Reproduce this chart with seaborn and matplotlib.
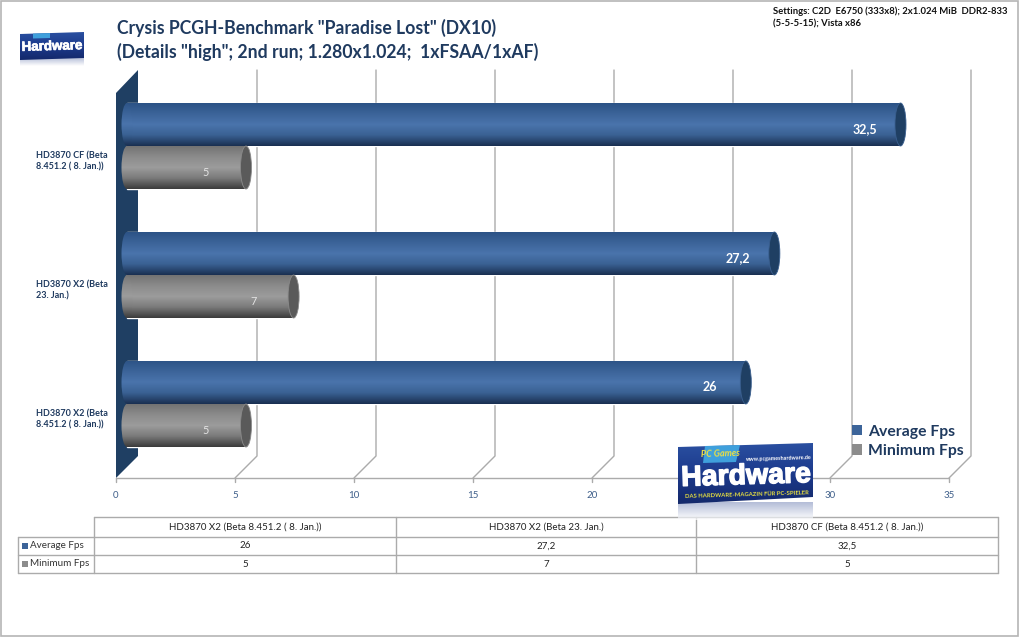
import matplotlib
matplotlib.use("Agg")
import matplotlib.pyplot as plt
import matplotlib.patheffects as pe
import numpy as np
import pandas as pd
import seaborn as sns
from matplotlib.colors import LinearSegmentedColormap
from matplotlib.patches import Ellipse, Polygon, Rectangle
from matplotlib.transforms import ScaledTranslation

cards = ["HD3870 X2 (Beta 8.451.2 ( 8. Jan.))", "HD3870 X2 (Beta 23. Jan.)", "HD3870 CF (Beta 8.451.2 ( 8. Jan.))"]
card_labels = ["HD3870 X2 (Beta\n8.451.2 ( 8. Jan.))", "HD3870 X2 (Beta\n23. Jan.)", "HD3870 CF (Beta\n8.451.2 ( 8. Jan.))"]
average_fps = [26, 27.2, 32.5]
minimum_fps = [5, 7, 5]
series_names = ["Average Fps", "Minimum Fps"]
x_ticks = [0, 5, 10, 15, 20, 25, 30, 35]

W, H = 1020, 637
NAVY = "#1F3A5F"
BLUE = "#3C6499"
GREY = "#8C8C8C"
LINE = "#ABABAB"
FONT = "Lato"
PX = 833 / 35  # pixels per fps along the axis


def fmt_value(v):
    return f"{v:g}".replace(".", ",")


def gradient(ax, colors, extent, clip):
    cmap = LinearSegmentedColormap.from_list("g", colors)
    im = ax.imshow(np.linspace(0, 1, 64).reshape(-1, 1), cmap=cmap, extent=extent,
                   aspect="auto", origin="upper", zorder=2)
    im.set_clip_path(clip)


def logo(ax, corners, title_size, title_xy, tab, stroke):
    left, right = corners[0][0], corners[1][0]
    top, bottom = corners[1][1], corners[3][1]
    body = Polygon(corners, closed=True, fc="none", ec="none")
    ax.add_patch(body)
    gradient(ax, ["#2A4FA0", "#1C3A8C", "#14296B"], (left, right, bottom, top), body)
    ax.add_patch(Polygon(tab, closed=True, fc="#3FA0DC", ec="none", zorder=3))
    # faded reflection under the logo
    depth = (bottom - top) * 0.3
    shadow = Rectangle((left, bottom - 2), right - left, depth, fc="none", ec="none")
    ax.add_patch(shadow)
    cmap = LinearSegmentedColormap.from_list("r", ["#8E9CC4", "#FFFFFF"])
    im = ax.imshow(np.linspace(0, 1, 32).reshape(-1, 1), cmap=cmap, alpha=0.7, aspect="auto",
                   extent=(left, right, bottom - 2 + depth, bottom - 2), origin="upper", zorder=1)
    im.set_clip_path(shadow)
    ax.text(*title_xy, "Hardware", color="white", fontsize=title_size, fontweight="bold",
            family=["Liberation Sans"], ha="center", va="center", rotation=1.7, zorder=4,
            path_effects=[pe.withStroke(linewidth=stroke, foreground="white")])


sns.set_theme(style="white")
plt.rcParams["font.family"] = [FONT, "DejaVu Sans"]

fig = plt.figure(figsize=(W / 100, H / 100), dpi=100, facecolor="white")

# background layer in pixel coordinates: frame, 3D floor and walls, data table
back = fig.add_axes([0, 0, 1, 1], zorder=0)
back.set_xlim(0, W)
back.set_ylim(H, 0)
back.axis("off")
back.add_patch(Rectangle((1, 1), 1017, 635, fc="none", ec="#B5B5B5", lw=1.2))
for t in x_ticks:
    fx = 116 + PX * t
    if t > 0:
        back.plot([fx + 22, fx + 22, fx], [70, 456, 478], color=LINE, lw=1)
    back.plot([fx, fx], [478, 482], color=LINE, lw=1)
    back.text(fx, 496, str(t), color="#3F5F8A", fontsize=7, ha="center", va="center")
back.plot([116, 116 + PX * 35], [478, 478], color=LINE, lw=1)
back.add_patch(Polygon([(116, 478), (138, 456), (138, 70), (116, 93)], closed=True, fc="#1F3F63", ec="none"))

col_x = [94, 396, 696, 998]
back.plot([94, 998], [517, 517], color=LINE, lw=1)
back.plot([18, 998], [537, 537], color=LINE, lw=1)
back.plot([18, 998], [555, 555], color=LINE, lw=1)
back.plot([18, 998], [573, 573], color=LINE, lw=1)
back.plot([18, 18], [537, 573], color=LINE, lw=1)
for x in col_x:
    back.plot([x, x], [517, 573], color=LINE, lw=1)
for i, card in enumerate(cards):
    cx = (col_x[i] + col_x[i + 1]) / 2
    back.text(cx, 527, card, color="#222222", fontsize=7, ha="center", va="center")
    back.text(cx, 546, fmt_value(average_fps[i]), color="#222222", fontsize=7, ha="center", va="center")
    back.text(cx, 564.5, fmt_value(minimum_fps[i]), color="#222222", fontsize=7, ha="center", va="center")
for name, color, y in zip(series_names, [BLUE, GREY], [545.5, 563.5]):
    back.add_patch(Rectangle((22, y - 3), 6, 6, fc=color, ec="none"))
    back.text(30, y, name, color="#333333", fontsize=7.1, ha="left", va="center")

back.text(117, 28, 'Crysis PCGH-Benchmark "Paradise Lost" (DX10)', color=NAVY, fontsize=12.7,
          fontweight="bold", ha="left", va="center")
back.text(117, 52, '(Details "high"; 2nd run; 1.280x1.024;  1xFSAA/1xAF)', color=NAVY, fontsize=12.7,
          fontweight="bold", ha="left", va="center")
back.text(773, 11, "Settings: C2D  E6750 (333x8); 2x1.024 MiB  DDR2-833", color="#111111", fontsize=6.85,
          fontweight="bold", ha="left", va="center")
back.text(773, 24, "(5-5-5-15); Vista x86", color="#111111", fontsize=6.85, fontweight="bold", ha="left", va="center")
back.set_xlim(0, W)
back.set_ylim(H, 0)

# bars
df = pd.DataFrame({"card": cards * 2,
                   "series": [series_names[0]] * 3 + [series_names[1]] * 3,
                   "fps": average_fps + minimum_fps})
ax = fig.add_axes([(127 - 0.5 * PX) / W, 1 - 468.5 / H, (35.5 * PX) / W, 387 / H], zorder=1)
ax.patch.set_alpha(0)
sns.barplot(data=df, y="card", x="fps", hue="series", order=cards[::-1], hue_order=series_names,
            palette=[BLUE, GREY], width=2 / 3, gap=0, orient="h", saturation=1, ax=ax)

ramps = [["#2C5386", "#3C6499", "#4A74AC", "#3A6193", "#1A3052"],
         ["#737373", "#8C8C8C", "#9C9C9C", "#7A7A7A", "#3C3C3C"]]
caps = [("#1F3F63", "#3A5F8F"), ("#5A5A5A", "#8A8A8A")]
offsets = [-36, -40]
for n, container in enumerate(ax.containers):
    for bar in container:
        x0, y0, w, h = bar.get_x(), bar.get_y(), bar.get_width(), bar.get_height()
        bar.set_facecolor("none")
        left_end = Ellipse((x0, y0 + h / 2), 11 / PX, h, fc="none", ec="none")
        ax.add_patch(left_end)
        gradient(ax, ramps[n], (x0, x0 + w, y0 + h, y0), bar)
        gradient(ax, ramps[n], (x0 - 1, x0 + 1, y0 + h, y0), left_end)
        ax.add_patch(Ellipse((x0 + w, y0 + h / 2), 11 / PX, h, fc=caps[n][0], ec=caps[n][1], lw=0.6, zorder=3))
    labels = ax.bar_label(container, fmt=fmt_value, padding=offsets[n] * 0.72, zorder=5,
                          color="white" if n == 0 else "#E4E4E4", fontsize=9 if n == 0 else 7.8,
                          fontweight="bold" if n == 0 else "normal")
    for label in labels:
        label.set_ha("center")
        label.xyann = (offsets[n] * 0.72, -3.5)

ax.set_xlim(-0.5, 35)
ax.set_ylim(2.5, -0.5)
ax.set_xticks([])
ax.set_xlabel("")
ax.set_ylabel("")
sns.despine(ax=ax, left=True, bottom=True)
ax.set_yticks(range(3))
ax.set_yticklabels(card_labels[::-1], color=NAVY, fontsize=6.5, fontweight="bold", ha="left", linespacing=1.35)
ax.tick_params(axis="y", length=0, pad=(115 - 36) * 0.72)
shift = ScaledTranslation(0, -0.13, fig.dpi_scale_trans)
for label in ax.get_yticklabels():
    label.set_transform(label.get_transform() + shift)

handles = [Rectangle((0, 0), 1, 1, fc=c, ec="none") for c in [BLUE, GREY]]
ax.legend(handles, series_names, loc="lower left", bbox_to_anchor=((852 - 115) / (35.5 * PX), 0.027), frameon=False,
          handlelength=0.64, handleheight=0.64, handletextpad=0.35, labelspacing=0.35, borderpad=0, borderaxespad=0,
          labelcolor=NAVY, prop={"weight": "bold", "size": 11.3, "family": FONT})

# logos sit on top of everything
front = fig.add_axes([0, 0, 1, 1], zorder=2)
front.patch.set_alpha(0)
front.axis("off")
logo(front, [(20, 34), (84, 32), (84, 58), (20, 60)], 9.6, (52, 47), [(33, 33.6), (50, 33.1), (50, 38), (33, 38.5)], 0.5)
logo(front, [(678, 447), (813, 443), (813, 497), (678, 504)], 20.5, (746, 477), [(705, 446), (740, 445), (736, 462), (703, 463)], 1)
front.text(720, 454, "PC Games", color="#F0E040", fontsize=6.5, fontweight="bold", style="italic",
           ha="center", va="center", rotation=1.7, zorder=5)
front.text(779, 458.5, "www.pcgameshardware.de", color="white", fontsize=3.9, fontweight="bold",
           ha="center", va="center", rotation=1.7, zorder=5)
front.text(747, 494.5, "DAS HARDWARE-MAGAZIN FÜR PC-SPIELER", color="#E8E040", fontsize=4.2, fontweight="bold",
           ha="center", va="center", rotation=1.7, zorder=5)
front.set_xlim(0, W)
front.set_ylim(H, 0)

fig.savefig("out.png", dpi=100, facecolor="white")
plt.close(fig)
